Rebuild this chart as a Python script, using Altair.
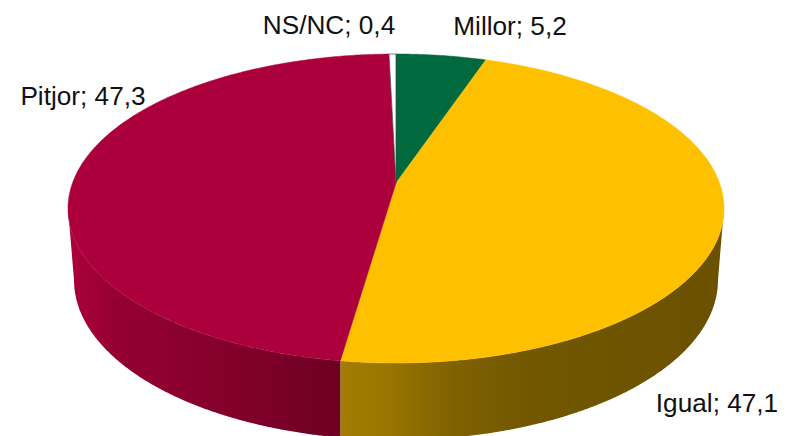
import altair as alt
import numpy as np
import pandas as pd

categories = ["Millor", "Igual", "Pitjor", "NS/NC"]
values = [5.2, 47.1, 47.3, 0.4]
value_labels = ["5,2", "47,1", "47,3", "0,4"]
face_colors = ["#00693E", "#FFC000", "#AB003C", "#FFFFFF"]
label_centres_x = [510, 717, 83, 329]
label_centres_y = [27, 404, 97, 26]

# perspective view of the pie's top face
APEX_X, APEX_Y, A, C, K = 396.0, 183.0, 323.5, 150.3, 0.165
# bottom rim of the side wall
BOT_CX, BOT_CY, BOT_RX, BOT_RY = 396.0, 280.0, 322.0, 160.0


def rim(theta):
    X, Y = np.sin(theta), np.cos(theta)
    w = 1 + K * Y
    return APEX_X + A * X / w, APEX_Y - C * Y / w


def bottom(x, x_min, x_max):
    x = np.asarray(x, dtype=float)
    u = np.clip((x - BOT_CX) / BOT_RX, -1, 1)
    y = BOT_CY + BOT_RY * np.sqrt(1 - u ** 2)
    left = BOT_CX - BOT_RX
    right = BOT_CX + BOT_RX
    y = np.where(x < left, 208 + (x - x_min) / (left - x_min) * (BOT_CY - 208), y)
    y = np.where(x > right, 208 + (x_max - x) / (x_max - right) * (BOT_CY - 208), y)
    return y


total = sum(values)
edges = np.concatenate([[0], np.cumsum(values)]) / total * 2 * np.pi

xs = alt.X("x:Q", scale=alt.Scale(domain=[8, 779], range=[0, 771]), axis=None)
ys = alt.Y("y:Q", scale=alt.Scale(domain=[8, 436], range=[0, 428]), axis=None)

grid = np.linspace(0, 2 * np.pi, 3601)
gx, _ = rim(grid)
x_min, x_max = gx.min(), gx.max()
th_right = grid[np.argmax(gx)]
th_left = grid[np.argmin(gx)]


def wall(t0, t1, stops):
    th = np.linspace(t0, t1, 300)
    x, y = rim(th)
    df = pd.DataFrame({"x": x, "y": y, "y2": bottom(x, x_min, x_max)})
    grad = alt.LinearGradient(
        gradient="linear", x1=0, x2=1, y1=0, y2=0,
        stops=[alt.GradientStop(offset=o, color=c) for o, c in stops],
    )
    return alt.Chart(df).mark_area(color=grad, clip=True).encode(
        x=xs, y=ys, y2="y2:Q"
    )


layers = [
    wall(th_right, edges[2], [(0, "#A37D00"), (0.12, "#9A7600"), (0.3, "#7E6100"), (0.5, "#725700"), (1, "#6B5000")]),
    wall(edges[2], th_left, [(0, "#AB003C"), (0.08, "#A30038"), (0.2, "#930031"), (0.55, "#86002C"), (1, "#6E0024")]),
]

for i, cat in enumerate(categories):
    n = max(4, int((edges[i + 1] - edges[i]) * 120))
    th = np.linspace(edges[i], edges[i + 1], n)
    x, y = rim(th)
    df = pd.DataFrame({
        "x": np.concatenate([[APEX_X], x, [APEX_X]]),
        "y": np.concatenate([[APEX_Y], y, [APEX_Y]]),
    })
    df["o"] = range(len(df))
    white = face_colors[i].upper() == "#FFFFFF"
    layers.append(
        alt.Chart(df).mark_line(
            fill=face_colors[i],
            stroke="#444444" if white else face_colors[i],
            strokeWidth=0.7 if white else 0.5,
            clip=True,
        ).encode(x=xs, y=ys, order="o:Q")
    )

labels = pd.DataFrame({
    "x": label_centres_x,
    "y": label_centres_y,
    "t": [f"{c}; {v}" for c, v in zip(categories, value_labels)],
})
layers.append(
    alt.Chart(labels).mark_text(
        font="Liberation Sans", fontSize=26.2, color="#111111", align="center", baseline="middle"
    ).encode(x=xs, y=ys, text="t:N")
)

chart = alt.layer(*layers).properties(
    width=771, height=428, padding=0, autosize=alt.AutoSizeParams(type="none"),
    background="white",
).configure_view(stroke=None)

chart.save("out.html", embed_options={"renderer": "svg", "actions": False})
